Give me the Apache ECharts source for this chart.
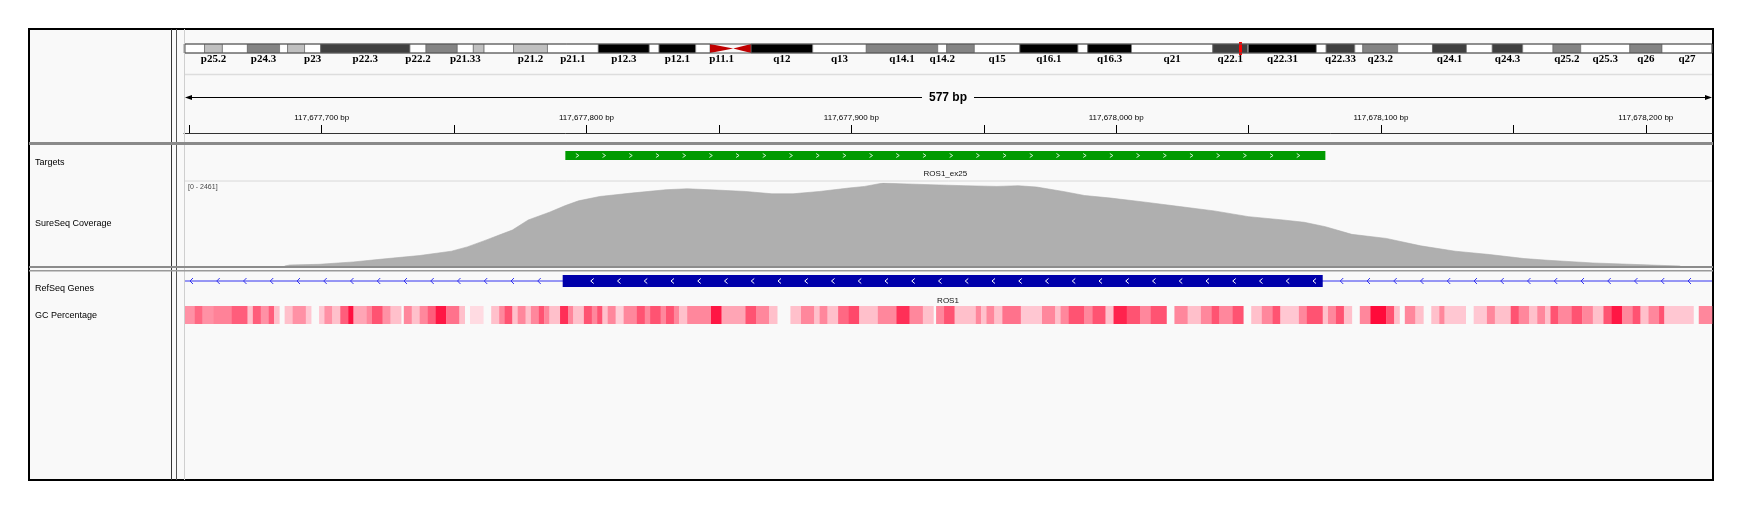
<!DOCTYPE html>
<html>
<head>
<meta charset="utf-8">
<title>ROS1_ex25 coverage</title>
<script src="https://cdn.jsdelivr.net/npm/echarts@6/dist/echarts.min.js"></script>
<style>
    html, body { margin: 0; padding: 0; background: #ffffff; }
    #igv-chart { width: 1749px; height: 512px; }
</style>
</head>
<body>
<div id="igv-chart"></div>
<script>
// locus on screen: chr6:117,677,648-117,678,225
const viewStart = 117677648;
const viewEnd = 117678225;

const rulerTicks = [117677650, 117677700, 117677750, 117677800, 117677850, 117677900,
    117677950, 117678000, 117678050, 117678100, 117678150, 117678200];
const rulerLabels = [117677700, 117677800, 117677900, 117678000, 117678100, 117678200];

// chr6 cytobands in Mb
const bandStart = [0, 2.3, 4.3, 7.1, 10.7, 11.6, 13.5, 15.3, 25.3, 27.1, 30.6, 32.4, 33.6, 36.9,
    40.7, 46.4, 52.1, 53.2, 57.3, 58.9, 61.5, 63.5, 70.4, 76.4, 84.4, 85.4, 88.5, 93.6, 100.1,
    101.2, 106.1, 115.2, 119.1, 119.2, 126.8, 127.9, 131.1, 132.0, 135.9, 139.8, 143.6, 146.5,
    149.9, 153.3, 156.4, 161.9, 165.5];
const bandName = ['p25.3', 'p25.2', 'p25.1', 'p24.3', 'p24.2', 'p24.1', 'p23', 'p22.3', 'p22.2',
    'p22.1', 'p21.33', 'p21.32', 'p21.31', 'p21.2', 'p21.1', 'p12.3', 'p12.2', 'p12.1', 'p11.2',
    'p11.1', 'q11.1', 'q12', 'q13', 'q14.1', 'q14.2', 'q14.3', 'q15', 'q16.1', 'q16.2', 'q16.3',
    'q21', 'q22.1', 'q22.2', 'q22.31', 'q22.32', 'q22.33', 'q23.1', 'q23.2', 'q23.3', 'q24.1',
    'q24.2', 'q24.3', 'q25.1', 'q25.2', 'q25.3', 'q26', 'q27'];
const bandStain = ['gneg', 'gpos25', 'gneg', 'gpos50', 'gneg', 'gpos25', 'gneg', 'gpos75', 'gneg',
    'gpos50', 'gneg', 'gpos25', 'gneg', 'gpos25', 'gneg', 'gpos100', 'gneg', 'gpos100', 'gneg',
    'acen', 'acen', 'gpos100', 'gneg', 'gpos50', 'gneg', 'gpos50', 'gneg', 'gpos100', 'gneg',
    'gpos100', 'gneg', 'gpos75', 'gneg', 'gpos100', 'gneg', 'gpos75', 'gneg', 'gpos50', 'gneg',
    'gpos75', 'gneg', 'gpos75', 'gneg', 'gpos50', 'gneg', 'gpos50', 'gneg'];
const chromEnd = 171.1;
const shownBands = ['p25.2', 'p24.3', 'p23', 'p22.3', 'p22.2', 'p21.33', 'p21.2', 'p21.1', 'p12.3',
    'p12.1', 'p11.1', 'q12', 'q13', 'q14.1', 'q14.2', 'q15', 'q16.1', 'q16.3', 'q21', 'q22.1',
    'q22.31', 'q22.33', 'q23.2', 'q24.1', 'q24.3', 'q25.2', 'q25.3', 'q26', 'q27'];
const ideoMarkerMb = 118.3;

const targetName = 'ROS1_ex25';
const targetStart = 117677792;
const targetEnd = 117678079;

const geneName = 'ROS1';
const geneStart = 117609463;
const geneEnd = 117747018;
const exonStart = [117677791];
const exonEnd = [117678078];

// coverage, bp offset from viewStart
const covMax = 2461;
const covPos = [38, 40, 51, 64, 73, 77, 89, 101, 107, 114, 119, 124, 130, 138, 144, 149, 157, 169,
    182, 190, 201, 212, 222, 230, 240, 251, 257, 264, 270, 282, 295, 307, 315, 322, 332, 340, 350,
    363, 376, 389, 402, 415, 423, 431, 441, 454, 467, 480, 493, 506, 515, 532, 557, 565];
const covVal = [0, 30, 50, 120, 190, 221, 310, 439, 567, 767, 917, 1066, 1365, 1594, 1792, 1932,
    2061, 2162, 2261, 2290, 2252, 2210, 2141, 2141, 2210, 2311, 2360, 2461, 2440, 2410, 2380, 2360,
    2380, 2341, 2210, 2091, 2013, 1893, 1762, 1634, 1463, 1365, 1296, 1165, 938, 818, 597, 439, 340,
    221, 170, 90, 20, 0];

// GC %, segment start (bp offset) and value, null = blank
const gcPos = [0, 4, 7, 11, 18, 24, 26, 29, 32, 34,
    36, 38, 41, 46, 48, 51, 53, 56, 59, 62,
    64, 69, 71, 75, 78, 82, 83, 86, 89, 92,
    95, 99, 104, 106, 108, 113, 116, 119, 121, 124,
    126, 129, 131, 134, 136, 138, 142, 145, 147, 151,
    154, 156, 158, 160, 163, 166, 171, 174, 176, 180,
    182, 185, 187, 190, 199, 203, 212, 216, 221, 224,
    229, 233, 238, 240, 243, 247, 251, 255, 262, 269,
    274, 279, 283, 284, 287, 291, 299, 301, 303, 306,
    309, 316, 324, 329, 331, 334, 340, 343, 348, 351,
    356, 361, 365, 371, 374, 379, 384, 388, 391, 396,
    400, 403, 407, 411, 414, 421, 424, 430, 432, 435,
    438, 441, 444, 448, 454, 457, 459, 461, 465, 468,
    471, 474, 476, 484, 487, 492, 495, 501, 504, 508,
    511, 514, 516, 519, 524, 528, 532, 536, 539, 543,
    547, 550, 553, 557, 559, 570, 572];
const gcVal = [52, 60, 52, 55, 62, 42, 62, 52, 62, 42,
    null, 42, 52, 40, null, 40, 52, 42, 62, 75,
    48, 54, 64, 52, 42, null, 54, 42, 54, 62,
    74, 58, 42, null, 35, null, 42, 54, 64, 42,
    54, 42, 54, 64, 54, 42, 70, 54, 42, 64,
    54, 64, 42, 54, 38, 54, 64, 54, 64, 54,
    64, 54, 42, 54, 74, 48, 64, 54, 42, null,
    42, 54, 42, 54, 42, 60, 66, 42, 54, 70,
    54, 42, null, 54, 64, 42, 54, 42, 54, 42,
    58, 40, 54, 42, 54, 64, 54, 64, 42, 72,
    64, 54, 64, null, 54, 42, 54, 64, 54, 64,
    null, 42, 54, 64, 40, 54, 64, 42, 54, 64,
    42, null, 54, 76, 64, 42, null, 54, 42, null,
    42, 54, 40, null, 40, 54, 42, 64, 54, 42,
    54, 42, 64, 54, 64, 54, 42, 64, 74, 54,
    64, 42, 54, 64, 40, null, 54];

const stainColor = {
    gneg: '#ffffff', gpos25: '#c0c0c0', gpos50: '#848484',
    gpos75: '#404040', gpos100: '#000000', acen: '#c00000'
};

const FONT = '"Liberation Sans", Arial, sans-serif';
const DATA_L = 184, DATA_R = 1712, FRAME_L = 29, FRAME_R = 1713, FRAME_T = 29, FRAME_B = 480;

const withCommas = v => String(v).replace(/\B(?=(\d{3})+(?!\d))/g, ',');

function renderBand(params, api) {
    const i = api.value(2);
    const cs = params.coordSys;
    const x0 = api.coord([api.value(0), 0])[0];
    const x1 = api.coord([api.value(1), 0])[0];
    const top = cs.y, h = cs.height, mid = top + h / 2;
    const children = [];
    if (bandStain[i] === 'acen') {
        const pts = bandName[i].charAt(0) === 'p'
            ? [[x0, top], [x1, mid], [x0, top + h]]
            : [[x0, mid], [x1, top], [x1, top + h]];
        children.push({type: 'polygon', shape: {points: pts}, style: {fill: stainColor.acen}});
    } else {
        children.push({
            type: 'rect', shape: {x: x0, y: top, width: x1 - x0, height: h},
            style: {fill: stainColor[bandStain[i]], stroke: '#6a6a6a', lineWidth: 0.7}
        });
    }
    if (shownBands.indexOf(bandName[i]) >= 0) {
        children.push({
            type: 'text',
            style: {
                text: bandName[i], x: (x0 + x1) / 2, y: top + h + 6, align: 'center', verticalAlign: 'middle',
                font: 'bold 11px "Liberation Serif", serif', fill: '#000'
            }
        });
    }
    return {type: 'group', children: children};
}

function renderMarker(params, api) {
    const cs = params.coordSys;
    const x = api.coord([api.value(0), 0])[0];
    return {
        type: 'rect', shape: {x: x - 1.5, y: cs.y - 2, width: 3, height: cs.height + 4},
        style: {fill: '#ff0000'}
    };
}

function renderTarget(params, api) {
    const cs = params.coordSys;
    const x0 = api.coord([api.value(0), 0])[0];
    const x1 = api.coord([api.value(1), 0])[0];
    const top = cs.y, h = cs.height, mid = top + h / 2;
    const children = [{
        type: 'rect', shape: {x: x0, y: top, width: x1 - x0, height: h}, style: {fill: '#009a00'}
    }];
    for (let x = x0 + 12; x < x1 - 4; x += 26.7) {
        children.push({
            type: 'polyline', shape: {points: [[x - 1.5, mid - 2], [x + 1.5, mid], [x - 1.5, mid + 2]]},
            style: {stroke: 'rgba(235,255,235,0.85)', lineWidth: 1, fill: null}
        });
    }
    children.push({
        type: 'text',
        style: {
            text: targetName, x: (x0 + x1) / 2, y: top + 23, align: 'center', verticalAlign: 'middle',
            font: '8px ' + FONT, fill: '#111'
        }
    });
    return {type: 'group', children: children};
}

function renderGene(params, api) {
    const cs = params.coordSys;
    const left = cs.x, right = cs.x + cs.width, mid = cs.y + cs.height / 2;
    const gx0 = Math.max(left, api.coord([api.value(0), 0])[0]);
    const gx1 = Math.min(right, api.coord([api.value(1), 0])[0]);
    const boxes = exonStart.map((s, k) => [api.coord([s, 0])[0], api.coord([exonEnd[k], 0])[0]]);
    const children = [{
        type: 'line', shape: {x1: gx0, y1: mid, x2: gx1, y2: mid},
        style: {stroke: '#3434f0', lineWidth: 1}
    }];
    boxes.forEach(b => children.push({
        type: 'rect', shape: {x: b[0], y: cs.y, width: b[1] - b[0], height: cs.height},
        style: {fill: '#0000aa'}
    }));
    for (let x = gx0 + 7; x < gx1 - 3; x += 26.75) {
        const inBox = boxes.some(b => x > b[0] + 4 && x < b[1] - 4);
        const nearEdge = boxes.some(b => x >= b[0] - 4 && x <= b[1] + 4);
        if (inBox) {
            children.push({
                type: 'polyline', shape: {points: [[x + 1.5, mid - 2.5], [x - 1.5, mid], [x + 1.5, mid + 2.5]]},
                style: {stroke: '#ffffff', lineWidth: 1, fill: null}
            });
        } else if (!nearEdge) {
            children.push({
                type: 'polyline', shape: {points: [[x + 2, mid - 3], [x - 1, mid], [x + 2, mid + 3]]},
                style: {stroke: '#3434f0', lineWidth: 1, fill: null}
            });
        }
    }
    children.push({
        type: 'text',
        style: {
            text: geneName, x: (gx0 + gx1) / 2, y: cs.y + 26, align: 'center', verticalAlign: 'middle',
            font: '8px ' + FONT, fill: '#111'
        }
    });
    return {type: 'group', children: children};
}

function renderGC(params, api) {
    const cs = params.coordSys;
    const x0 = api.coord([api.value(0), 0])[0];
    const x1 = api.coord([api.value(1), 0])[0];
    return {
        type: 'rect', shape: {x: x0, y: cs.y, width: x1 - x0 + 0.3, height: cs.height},
        style: {fill: api.visual('color')}
    };
}

const bandData = bandStart.map((s, i) => [s, i < bandStart.length - 1 ? bandStart[i + 1] : chromEnd, i]);
const covData = covPos.map((p, i) => [viewStart + p, covVal[i]]);
const gcData = [];
gcPos.forEach((p, i) => {
    if (gcVal[i] === null) return;
    const end = i < gcPos.length - 1 ? gcPos[i + 1] : viewEnd - viewStart;
    gcData.push([viewStart + p, viewStart + end, gcVal[i]]);
});

function grid(top, height) {
    return {left: DATA_L, right: 1749 - DATA_R, top: top, height: height, containLabel: false, outerBoundsMode: 'none'};
}

function hiddenX(gridIndex, min, max) {
    return {gridIndex: gridIndex, type: 'value', min: min, max: max, show: false, splitLine: {show: false}};
}

function hiddenY(gridIndex, max) {
    return {gridIndex: gridIndex, type: 'value', min: 0, max: max, show: false, splitLine: {show: false}};
}

function label(text, x, y, size, extra) {
    return Object.assign({
        type: 'text', x: x, y: y, z: 10,
        style: {text: text, font: size + 'px ' + FONT, fill: '#000', align: 'left', verticalAlign: 'middle'}
    }, extra || {});
}

function hline(y, x1, x2, color, width) {
    return {type: 'line', z: 5, shape: {x1: x1, y1: y, x2: x2, y2: y}, style: {stroke: color, lineWidth: width}};
}

function vline(x, y1, y2, color, width) {
    return {type: 'line', z: 5, shape: {x1: x, y1: y1, x2: x, y2: y2}, style: {stroke: color, lineWidth: width}};
}

const spanText = withCommas(viewEnd - viewStart) + ' bp';
const midX = (DATA_L + DATA_R) / 2;

const option = {
    animation: false,
    backgroundColor: '#ffffff',
    grid: [grid(44, 9), grid(75, 58), grid(151, 9), grid(183, 83), grid(275, 12), grid(306, 18)],
    xAxis: [
        hiddenX(0, 0, chromEnd),
        {
            gridIndex: 1, type: 'value', min: viewStart, max: viewEnd, position: 'bottom',
            splitLine: {show: false},
            axisLine: {show: true, onZero: false, lineStyle: {color: '#333', width: 1}},
            axisTick: {show: true, inside: true, length: 8, customValues: rulerTicks, lineStyle: {color: '#000'}},
            axisLabel: {
                show: true, inside: true, margin: 11, customValues: rulerLabels,
                formatter: v => withCommas(v) + ' bp',
                fontSize: 8, fontFamily: FONT, color: '#000'
            }
        },
        hiddenX(2, viewStart, viewEnd),
        hiddenX(3, viewStart, viewEnd),
        hiddenX(4, viewStart, viewEnd),
        hiddenX(5, viewStart, viewEnd)
    ],
    yAxis: [hiddenY(0, 1), hiddenY(1, 1), hiddenY(2, 1), hiddenY(3, covMax), hiddenY(4, 1), hiddenY(5, 1)],
    visualMap: [{
        type: 'continuous', show: false, seriesIndex: 5, dimension: 2, min: 35, max: 76,
        inRange: {color: ['#ffdbe2', '#ffb3c1', '#ff7f96', '#ff4a6b', '#ff0a3a']}
    }],
    series: [
        {type: 'custom', xAxisIndex: 0, yAxisIndex: 0, renderItem: renderBand, data: bandData, silent: true},
        {type: 'custom', xAxisIndex: 0, yAxisIndex: 0, renderItem: renderMarker, data: [[ideoMarkerMb]], silent: true, z: 5},
        {type: 'custom', xAxisIndex: 2, yAxisIndex: 2, renderItem: renderTarget, data: [[targetStart, targetEnd]], silent: true},
        {
            type: 'line', xAxisIndex: 3, yAxisIndex: 3, data: covData, showSymbol: false, silent: true,
            lineStyle: {color: '#a9a9a9', width: 0.6}, areaStyle: {color: '#afafaf', opacity: 1}
        },
        {type: 'custom', xAxisIndex: 4, yAxisIndex: 4, renderItem: renderGene, data: [[geneStart, geneEnd]], silent: true},
        {type: 'custom', xAxisIndex: 5, yAxisIndex: 5, renderItem: renderGC, data: gcData, silent: true}
    ],
    graphic: [
        {
            type: 'rect', z: -10, shape: {x: FRAME_L, y: FRAME_T, width: FRAME_R - FRAME_L, height: FRAME_B - FRAME_T},
            style: {fill: '#f9f9f9', stroke: '#000', lineWidth: 2}
        },
        vline(171.5, FRAME_T, FRAME_B, '#333', 1),
        vline(176.5, FRAME_T, FRAME_B, '#555', 1),
        vline(184.5, FRAME_T, FRAME_B, '#cfcfcf', 1),
        hline(74.5, DATA_L + 1, DATA_R, '#dddddd', 1.5),
        hline(181, DATA_L + 1, DATA_R, '#d8d8d8', 1),
        {type: 'rect', z: 5, shape: {x: FRAME_L, y: 142, width: FRAME_R - FRAME_L, height: 3}, style: {fill: '#8a8a8a'}},
        {type: 'rect', z: 5, shape: {x: FRAME_L, y: 266, width: FRAME_R - FRAME_L, height: 2}, style: {fill: '#8c8c8c'}},
        {type: 'rect', z: 5, shape: {x: FRAME_L, y: 270, width: FRAME_R - FRAME_L, height: 1.5}, style: {fill: '#9a9a9a'}},
        {type: 'rect', z: 6, shape: {x: DATA_L + 1, y: 44, width: DATA_R - DATA_L - 1, height: 9}, style: {fill: null, stroke: '#555', lineWidth: 1}},
        // span arrow with its size in the middle
        hline(97.5, DATA_L + 4, midX - 26, '#000', 1),
        hline(97.5, midX + 26, DATA_R - 4, '#000', 1),
        {type: 'polygon', z: 5, shape: {points: [[DATA_L + 1, 97.5], [DATA_L + 8, 95], [DATA_L + 8, 100]]}, style: {fill: '#000'}},
        {type: 'polygon', z: 5, shape: {points: [[DATA_R, 97.5], [DATA_R - 7, 95], [DATA_R - 7, 100]]}, style: {fill: '#000'}},
        label(spanText, midX, 98, 12, {style: {text: spanText, font: 'bold 12px ' + FONT, fill: '#000', align: 'center', verticalAlign: 'middle'}}),
        label('Targets', 35, 163, 9),
        label('SureSeq Coverage', 35, 224, 9),
        label('RefSeq Genes', 35, 289, 9),
        label('GC Percentage', 35, 316, 9),
        label('[0 - ' + covMax + ']', 188, 187, 7, {style: {text: '[0 - ' + covMax + ']', font: '7px ' + FONT, fill: '#444', align: 'left', verticalAlign: 'middle'}})
    ]
};

const myChart = echarts.init(document.getElementById('igv-chart'));
myChart.setOption(option);
</script>
</body>
</html>
